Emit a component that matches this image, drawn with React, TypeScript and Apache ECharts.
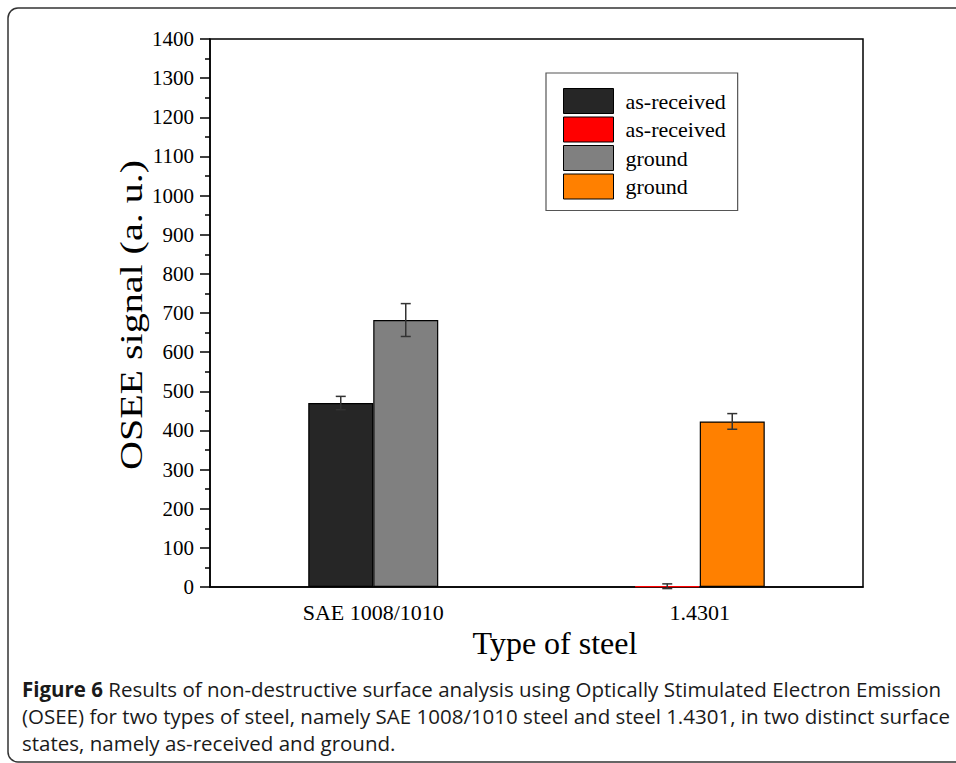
import React, { useEffect, useRef } from "react";
import * as echarts from "echarts";

const categories = ["SAE 1008/1010", "1.4301"];
const seriesNames = ["SAE as-received", "1.4301 as-received", "SAE ground", "1.4301 ground"];
const legendLabels = ["as-received", "as-received", "ground", "ground"];
const seriesColors = ["#262626", "#ff0000", "#808080", "#ff8000"];
const asReceivedSAE = [470, null];
const asReceived14301 = [null, 2];
const groundSAE = [682, null];
const ground14301 = [null, 423];
const errAsReceivedSAE = [17, null];
const errAsReceived14301 = [null, 6];
const errGroundSAE = [42, null];
const errGround14301 = [null, 20];
const yTicks = [0, 1400, 100];

const BAR_W = 65;
const SERIF = "'Liberation Serif', 'Times New Roman', serif";
const SANS = "'Open Sans', sans-serif";

export default function App() {
  const ref = useRef<HTMLDivElement>(null);
  useEffect(() => {
    if (!ref.current) return;
    const chart = echarts.init(ref.current, null, { renderer: "svg" });
    const values = [asReceivedSAE, asReceived14301, groundSAE, ground14301];
    const errs = [errAsReceivedSAE, errAsReceived14301, errGroundSAE, errGround14301];
    const stacks = ["a", "a", "b", "b"];
    const offsets = [-BAR_W / 2, -BAR_W / 2, BAR_W / 2, BAR_W / 2];

    const barSeries = values.map((v, i) => ({
      type: "bar",
      name: seriesNames[i],
      stack: stacks[i],
      barWidth: BAR_W,
      barGap: "0%",
      data: v.map((x) => (x == null ? "-" : x)),
      itemStyle: {
        color: seriesColors[i],
        borderColor: i === 1 ? "#ff0000" : "#000",
        borderWidth: 1.2,
      },
      z: 2,
    }));

    const errSeries = values.map((v, i) => ({
      type: "custom",
      name: seriesNames[i] + " err",
      z: 5,
      data: v
        .map((x, ci) => (x == null ? null : [ci, x, errs[i][ci]]))
        .filter((d) => d != null),
      renderItem: (params: any, api: any) => {
        const c = api.value(0);
        const val = api.value(1);
        const e = api.value(2);
        const x = api.coord([c, val])[0] + offsets[i];
        const yt = api.coord([c, val + e])[1];
        const yb = api.coord([c, val - e])[1];
        const st = { stroke: "#333", lineWidth: 1.5 };
        return {
          type: "group",
          children: [
            { type: "line", shape: { x1: x, y1: yt, x2: x, y2: yb }, style: st },
            { type: "line", shape: { x1: x - 5, y1: yt, x2: x + 5, y2: yt }, style: st },
            { type: "line", shape: { x1: x - 5, y1: yb, x2: x + 5, y2: yb }, style: st },
          ],
        };
      },
    }));

    const caption1 =
      "{b|Figure 6} Results of non-destructive surface analysis using Optically Stimulated Electron Emission";
    const caption2 =
      "(OSEE) for two types of steel, namely SAE 1008/1010 steel and steel 1.4301, in two distinct surface";
    const caption3 = "states, namely as-received and ground.";
    const capStyle = {
      fontFamily: SANS,
      fontSize: 20.5,
      fill: "#1a1a1a",
      rich: { b: { fontWeight: "bold", fontFamily: SANS, fontSize: 20.5, fill: "#1a1a1a" } },
    };

    chart.setOption({
      animation: false,
      backgroundColor: "#fff",
      grid: {
        left: 210,
        top: 39,
        right: 93,
        bottom: 176,
        show: true,
        borderColor: "#000",
        borderWidth: 1.5,
        backgroundColor: "transparent",
      },
      legend: {
        orient: "vertical",
        left: 546,
        top: 73,
        data: seriesNames.map((n) => ({ name: n, itemStyle: { borderColor: "#000", borderWidth: 1 } })),
        formatter: (name: string) => legendLabels[seriesNames.indexOf(name)],
        icon: "rect",
        itemWidth: 50,
        itemHeight: 25,
        itemGap: 2.5,
        padding: [15, 12, 11, 17],
        borderColor: "#555",
        borderWidth: 1.2,
        selectedMode: false,
        textStyle: { fontFamily: SERIF, fontSize: 22, color: "#000", padding: [0, 0, 0, 7] },
      },
      xAxis: {
        type: "category",
        data: categories,
        axisLine: { lineStyle: { color: "#000", width: 1.5 } },
        axisTick: { alignWithLabel: true, length: 8, lineStyle: { color: "#000", width: 1.5 } },
        axisLabel: { fontFamily: SERIF, fontSize: 22, color: "#000", margin: 14 },
      },
      yAxis: {
        type: "value",
        min: yTicks[0],
        max: yTicks[1],
        interval: yTicks[2],
        splitLine: { show: false },
        axisLine: { show: true, lineStyle: { color: "#000", width: 1.5 } },
        axisTick: { show: true, inside: false, length: 10, lineStyle: { color: "#000", width: 1.5 } },
        minorTick: { show: true, splitNumber: 2, length: 5, lineStyle: { color: "#000", width: 1.5 } },
        axisLabel: {
          fontFamily: SERIF,
          fontSize: 21,
          color: "#000",
          margin: 16,
          formatter: (v: number) => String(v),
        },
      },
      graphic: [
        {
          type: "rect",
          shape: { x: 8, y: 8, width: 1000, height: 754, r: 10 },
          style: { fill: "none", stroke: "#333", lineWidth: 1.5 },
          z: -1,
        },
        {
          type: "text",
          x: 131,
          y: 315,
          rotation: Math.PI / 2,
          scaleX: 1.25,
          style: {
            text: "OSEE signal (a. u.)",
            fontFamily: SERIF,
            fontSize: 32,
            fill: "#000",
            align: "center",
            verticalAlign: "middle",
          },
        },
        {
          type: "text",
          x: 555,
          y: 643,
          style: {
            text: "Type of steel",
            fontFamily: SERIF,
            fontSize: 32,
            fill: "#000",
            align: "center",
            verticalAlign: "middle",
          },
        },
        { type: "text", x: 22, y: 689, style: { ...capStyle, text: caption1, verticalAlign: "middle" } },
        { type: "text", x: 22, y: 716, style: { ...capStyle, text: caption2, verticalAlign: "middle" } },
        { type: "text", x: 22, y: 743, style: { ...capStyle, text: caption3, verticalAlign: "middle" } },
      ],
      series: [...barSeries, ...errSeries],
    });
    return () => chart.dispose();
  }, []);
  return <div ref={ref} style={{ width: 956, height: 763, position: "absolute", left: 0, top: 0 }} />;
}
